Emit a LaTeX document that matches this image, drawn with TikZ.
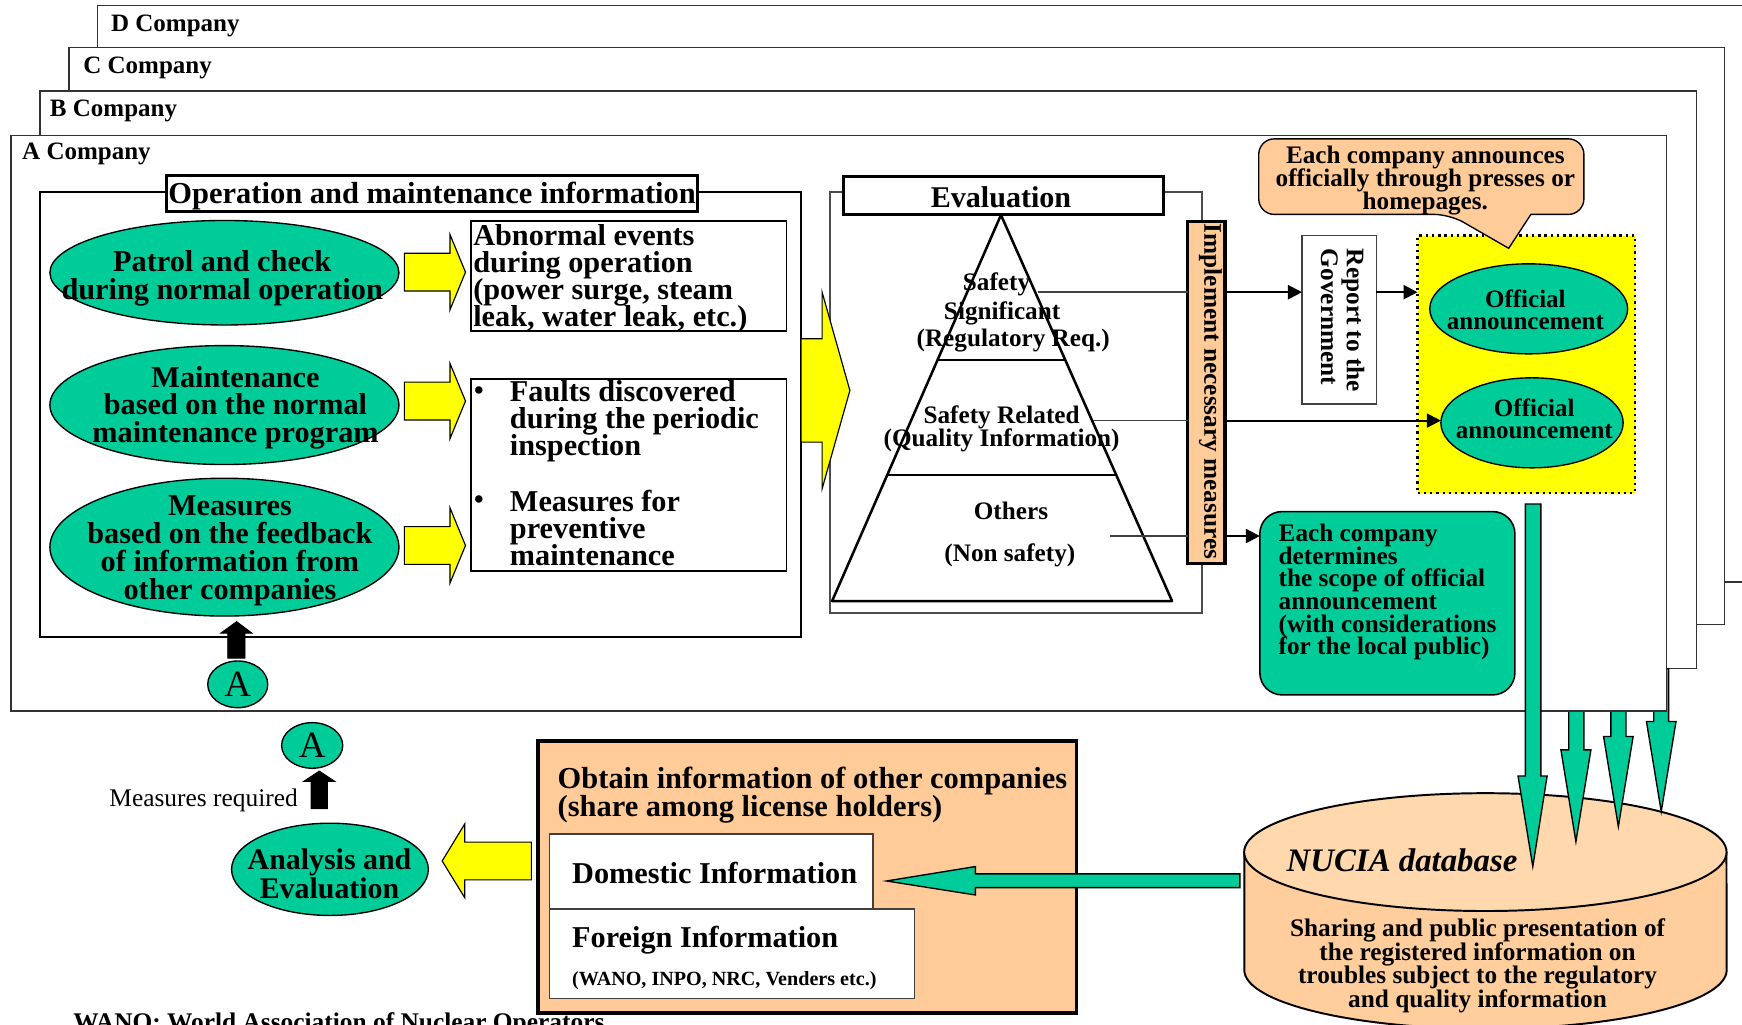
\documentclass[tikz,border=0pt]{standalone}
\usepackage{fontspec}
\setmainfont{Liberation Serif}
\usetikzlibrary{arrows.meta,shapes.geometric,calc,fit}

\definecolor{sheetgreen}{RGB}{0,204,153}
\definecolor{peach}{RGB}{255,204,153}
\definecolor{dbtop}{RGB}{255,216,174}
\definecolor{dbside}{RGB}{255,206,156}
\definecolor{flashyellow}{RGB}{255,255,0}

% font size with a fixed line pitch, even for tight leading
\newcommand{\fsz}[2]{\fontsize{#1}{#2}\selectfont\lineskiplimit=-20pt\relax}

\begin{document}
\begin{tikzpicture}[x=0.01cm, y=-0.01cm,
  every node/.style={inner sep=0pt, outer sep=0pt},
  sheet/.style={draw=black!80, line width=0.35pt, fill=white},
  sheetlabel/.style={anchor=west, font=\fsz{6.4pt}{7pt}\bfseries},
  thinbox/.style={draw=black!75, line width=0.4pt, fill=white},
  heavybox/.style={draw=black, line width=0.75pt, fill=white},
  greenell/.style={ellipse, draw=black, line width=0.35pt, fill=sheetgreen},
  bigtxt/.style={font=\fsz{7.75pt}{7pt}\bfseries, align=center},
  bigleft/.style={font=\fsz{7.75pt}{6.9pt}\bfseries, align=left, anchor=west},
  smalltxt/.style={font=\fsz{6.4pt}{5.8pt}\bfseries, align=center},
  smallleft/.style={font=\fsz{6.45pt}{5.8pt}\bfseries, align=left, anchor=west},
  tiertxt/.style={font=\fsz{6.45pt}{7pt}\bfseries},
  yellowarrow/.style={fill=flashyellow, draw=black, line width=0.3pt, line join=miter},
  greenarrow/.style={fill=sheetgreen, draw=black, line width=0.35pt, line join=miter},
  blackarrow/.style={fill=black, draw=black, line width=0.2pt},
  feedline/.style={draw=black!75, line width=0.4pt},
  outarrow/.style={draw=black, line width=0.55pt, -{Triangle[length=3.6pt, width=3.6pt]}},
]
\useasboundingbox (0,0) rectangle (1568,922);

% ---- company sheets, back to front ----
\node[sheet, fit={(88,5) (1640,524)}] (dsheet) {};
\node[sheetlabel] (dlabel) at (100,23) {D Company};
\node[sheet, fit={(62,43) (1552,562)}] (csheet) {};
\node[sheetlabel] (clabel) at (75,61) {C Company};
\node[sheet, fit={(36,82) (1527,602)}] (bsheet) {};
\node[sheetlabel] (blabel) at (45,100) {B Company};

% ---- NUCIA database cylinder ----
\fill[dbside] (1120,767) -- (1120,873)
  arc[start angle=180, end angle=360, x radius=2.17cm, y radius=0.53cm] -- (1554,767) -- cycle;
\draw[line width=0.5pt] (1120,767) -- (1120,873)
  arc[start angle=180, end angle=360, x radius=2.17cm, y radius=0.53cm] -- (1554,767);
\node[ellipse, draw=black, line width=0.5pt, fill=dbtop,
      minimum width=4.34cm, minimum height=1.06cm] (dbtopface) at (1337,767) {};
\node[font=\fsz{8.4pt}{9pt}\bfseries\itshape] (dbname) at (1262,774.5) {NUCIA database};
\node[smalltxt, font=\fsz{6.48pt}{6pt}\bfseries] (dbtext) at (1330,869.5)
  {Sharing and public presentation of\\the registered information on\\troubles subject to the regulatory\\and quality information};

% ---- reports coming down from the other companies ----
\draw[greenarrow] (1412,602) -- (1412,675) -- (1405,675) -- (1418.5,757.6) -- (1432,675) -- (1425.7,675) -- (1425.7,602) -- cycle;
\draw[greenarrow] (1450,602) -- (1450,663) -- (1443.4,663) -- (1456.7,744) -- (1470,663) -- (1463.6,663) -- (1463.6,602) -- cycle;
\draw[greenarrow] (1488.6,602) -- (1488.6,649.5) -- (1482,649.5) -- (1495.3,730.5) -- (1508.6,649.5) -- (1502,649.5) -- (1502,602) -- cycle;

% ---- A Company sheet ----
\node[sheet, fit={(10,122) (1500,640)}] (asheet) {};
\node[sheetlabel] (alabel) at (20,139) {A Company};

% ---- operation and maintenance information ----
\node[draw=black, line width=0.5pt, fit={(36,173) (721,573)}] (opsbox) {};
\node[heavybox, fit={(150,158) (628,190)}] (opstitlebox) {};
\node[font=\fsz{7.8pt}{8pt}\bfseries] (opstitle) at (389,176) {Operation and maintenance information};

\node[greenell, minimum width=3.14cm, minimum height=0.94cm] (patrol) at (202,245.5) {};
\node[bigtxt] (patroltxt) at (200,250.5) {Patrol and check\\during normal operation};
\node[greenell, minimum width=3.14cm, minimum height=1.07cm] (routine) at (202,364.6) {};
\node[bigtxt] (routinetxt) at (212,367) {Maintenance\\based on the normal\\maintenance program};
\node[greenell, minimum width=3.14cm, minimum height=1.24cm] (feedback) at (202,492.5) {};
\node[bigtxt, font=\fsz{7.75pt}{7.15pt}\bfseries] (feedbacktxt) at (207,495.5)
  {Measures\\based on the feedback\\of information from\\other companies};

\node[thinbox, draw=black, fit={(424,199) (708,298)}] (abnbox) {};
\node[bigleft] (abntxt) at (426,251) {Abnormal events\\during operation\\(power surge, steam\\leak, water leak, etc.)};

\node[thinbox, draw=black, fit={(424,341) (708,514)}] (bulbox) {};
\node[font=\fsz{7pt}{7pt}\bfseries] (bulA) at (431,354) {\textbullet};
\node[bigleft] (faults) at (459,379.5) {Faults discovered\\during the periodic\\inspection};
\node[font=\fsz{7pt}{7pt}\bfseries] (bulB) at (431,452) {\textbullet};
\node[bigleft] (prevent) at (459,475) {Measures for\\preventive\\maintenance};

% yellow arrows from the sources to the kinds of information
\draw[yellowarrow] (364,228) -- (405,228) -- (405,211) -- (419,245) -- (405,279) -- (405,262) -- (364,262) -- cycle;
\draw[yellowarrow] (364,344) -- (405,344) -- (405,327) -- (419,361) -- (405,395) -- (405,378) -- (364,378) -- cycle;
\draw[yellowarrow] (364,474) -- (405,474) -- (405,457) -- (419,491) -- (405,525) -- (405,508) -- (364,508) -- cycle;

% ---- evaluation ----
\node[draw=black!70, line width=0.4pt, fit={(747,173) (1082,552)}] (evalbox) {};
\node[heavybox, fit={(759,159) (1047,193)}] (evaltitlebox) {};
\node[font=\fsz{7.7pt}{8pt}\bfseries] (evaltitle) at (901,178) {Evaluation};

\draw[yellowarrow] (721,305) -- (740,305) -- (740,263) -- (765,351.5) -- (740,440) -- (740,398) -- (721,398) -- cycle;

\coordinate (apex) at (901,193.5);
\coordinate (baseL) at (749,541);
\coordinate (baseR) at (1055,541);
\draw[line width=0.65pt, line join=round] (apex) -- (baseL) -- (baseR) -- cycle;
\draw[line width=0.6pt] ($(apex)!0.3755!(baseL)$) -- ($(apex)!0.3755!(baseR)$);
\draw[line width=0.6pt] ($(apex)!0.6737!(baseL)$) -- ($(apex)!0.6737!(baseR)$);

\node[tiertxt] (sigA) at (897,256) {Safety};
\node[tiertxt] (sigB) at (902,282) {Significant};
\node[tiertxt] (sigC) at (912,306.5) {(Regulatory Req.)};
\node[tiertxt] (relA) at (901.6,376) {Safety Related};
\node[tiertxt] (relB) at (901.6,396) {(Quality Information)};
\node[tiertxt] (othA) at (910,460) {Others};
\node[tiertxt] (othB) at (909,500) {(Non safety)};

\node[draw=black, line width=0.8pt, fill=peach, fit={(1069,199.5) (1102.6,507)}] (implbox) {};
\node[rotate=-90, font=\fsz{6.48pt}{7pt}\bfseries] (impltxt) at (1089.5,352.5) {Implement necessary measures};

\node[thinbox, fit={(1172,212) (1239,363.6)}] (report) {};
\node[rotate=-90, anchor=west, align=left, font=\fsz{6.47pt}{6.6pt}\bfseries] (reporttxt) at (1208.5,224)
  {Report to the\\Government};

\node[draw=black, densely dotted, line width=0.6pt, fill=flashyellow, fit={(1276,212) (1471.6,443.5)}] (pressbox) {};
\node[greenell, minimum width=1.78cm, minimum height=0.81cm] (offA) at (1376,278) {};
\node[smalltxt] (offAtxt) at (1373,279) {Official\\announcement};
\node[greenell, minimum width=1.64cm, minimum height=0.81cm] (offB) at (1379,380.6) {};
\node[smalltxt] (offBtxt) at (1381,377) {Official\\announcement};

% callout over the announcements
\draw[fill=peach, draw=black, line width=0.35pt]
  (1133,160) [rounded corners=0.14cm] -- (1133,193) -- (1305,193) [sharp corners] -- (1358,223.5) -- (1378,193)
  [rounded corners=0.14cm] -- (1425.7,193) -- (1425.7,125) -- (1133,125) -- cycle;
\node[smalltxt, font=\fsz{6.45pt}{5.8pt}\bfseries] (callouttxt) at (1283,162.5)
  {Each company announces\\officially through presses or\\homepages.};

\node[draw=black, line width=0.4pt, fill=sheetgreen, rounded corners=0.2cm, fit={(1134,460.5) (1363.6,625.5)}] (scopebox) {};
\node[smallleft] (scopetxt) at (1151,533)
  {Each company\\determines\\the scope of official\\announcement\\(with considerations\\for the local public)};

% connectors out of the evaluation
\coordinate (sigpt) at (934,263);
\coordinate (relpt) at (984,378.6);
\coordinate (othpt) at (999,482.5);
\draw[feedline] (sigpt) -- (implbox.west |- sigpt);
\draw[feedline] (relpt) -- (implbox.west |- relpt);
\draw[feedline] (othpt) -- (implbox.west |- othpt);
\draw[outarrow] (implbox.east |- sigpt) -- (report.west |- sigpt);
\draw[outarrow] (report.east |- sigpt) -- (pressbox.west |- sigpt);
\draw[outarrow] (implbox.east |- relpt) -- (offB.west |- relpt);
\draw[outarrow] (implbox.east |- othpt) -- (scopebox.west |- othpt);

% A Company's own report into the database
\draw[greenarrow] (1373,453.7) -- (1373,698.5) -- (1366.4,698.5) -- (1379.7,780) -- (1392.6,698.5) -- (1387,698.5) -- (1387,453.7) -- cycle;

% ---- information of other companies ----
\node[draw=black, line width=1pt, fill=peach, fit={(484,667) (969,912)}] (obtainbox) {};
\node[bigleft, font=\fsz{7.8pt}{7.1pt}\bfseries] (obtaintxt) at (502,715.5)
  {Obtain information of other companies\\(share among license holders)};
\node[thinbox, fit={(494.7,750.7) (785.8,818)}] (domestic) {};
\node[bigleft] (domtxt) at (515,785.5) {Domestic Information};
\node[thinbox, fit={(494.7,818) (823,898.6)}] (foreign) {};
\node[bigleft] (fortxt) at (515,846) {Foreign Information};
\node[anchor=west, font=\fsz{5.15pt}{6pt}\bfseries] (fordetail) at (515,882.5) {(WANO, INPO, NRC, Venders etc.)};

\draw[greenarrow] (1116,786.6) -- (878,786.6) -- (878,780) -- (798,793) -- (878,805.6) -- (878,799) -- (1116,799) -- cycle;
\draw[yellowarrow] (478.3,758) -- (418.3,758) -- (418.3,741.7) -- (398,775) -- (418.3,808) -- (418.3,792) -- (478.3,792) -- cycle;

\node[greenell, minimum width=1.77cm, minimum height=0.83cm] (analysis) at (297,782.5) {};
\node[bigtxt, font=\fsz{7.65pt}{7.4pt}\bfseries] (analysistxt) at (296.6,786.5) {Analysis and\\Evaluation};

% feedback loop marks
\node[greenell, minimum width=0.54cm, minimum height=0.42cm, font=\fsz{9.5pt}{10pt}] (markA) at (214,616) {A};
\node[greenell, minimum width=0.55cm, minimum height=0.41cm, font=\fsz{9.5pt}{10pt}] (markB) at (281,671) {A};
\draw[blackarrow] (205,592.5) -- (205,570) -- (198.5,570) -- (213,559.5) -- (227,570) -- (220.6,570) -- (220.6,592.5) -- cycle;
\draw[blackarrow] (280,728) -- (280,703.5) -- (273,703.5) -- (287.4,694) -- (301.7,703.5) -- (294.8,703.5) -- (294.8,728) -- cycle;
\node[anchor=east, font=\fsz{6.5pt}{7pt}] (needtxt) at (268,720.5) {Measures required};

\node[anchor=base west, font=\fsz{6.5pt}{7pt}\bfseries] (wanonote) at (66,927.5) {WANO: World Association of Nuclear Operators};
\end{tikzpicture}
\end{document}
